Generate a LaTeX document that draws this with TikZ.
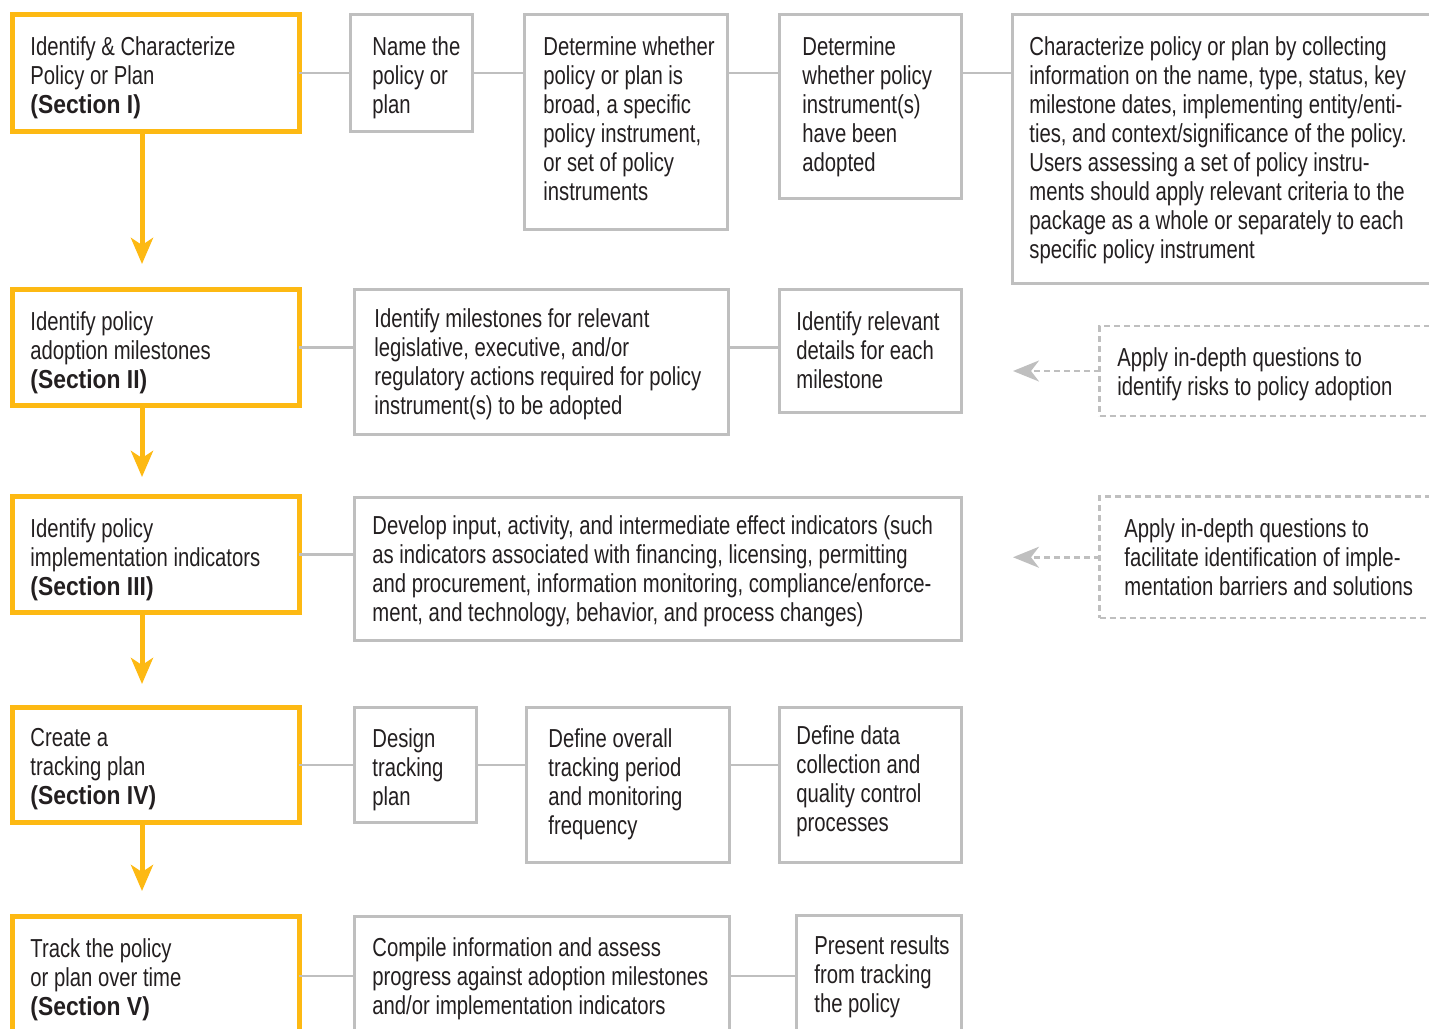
\documentclass[tikz,border=0pt]{standalone}
\usepackage{fontspec}
\setmainfont{Liberation Sans}[FakeStretch=0.78, BoldFeatures={FakeStretch=0.88}]
\usetikzlibrary{arrows.meta}
\definecolor{sectyellow}{HTML}{FDB913}
\definecolor{boxgray}{HTML}{BFBFBF}
\definecolor{inkblack}{HTML}{231F20}

\begin{document}
\begin{tikzpicture}[x=1pt, y=-1pt,
	sect/.style = {draw=sectyellow,
		line width=2.5pt,
		outer sep=0pt, inner sep=0pt,
		anchor=north west,
		minimum width=143.5pt},
	task/.style = {draw=boxgray,
		line width=1.5pt,
		outer sep=0pt, inner sep=0pt,
		anchor=north west},
	hint/.style = {draw=boxgray,
		line width=1.3pt,
		dash pattern=on 3pt off 2pt,
		outer sep=0pt, inner sep=0pt,
		anchor=north west},
	txt/.style = {anchor=north west,
		inner sep=0pt,
		align=left,
		text=inkblack,
		font=\fontsize{13}{14.5}\selectfont},
	flow/.style = {draw=sectyellow, line width=2.5pt,
		-{Stealth[length=13pt, width=11pt, inset=3.5pt]}},
	link/.style = {draw=boxgray, line width=1.25pt},
	back/.style = {draw=boxgray, line width=1.3pt,
		dash pattern=on 3pt off 2pt,
		-{Stealth[length=13pt, width=10.5pt, inset=4pt]}}]

	\useasboundingbox (0,0) rectangle (714.5,514);
	\clip (0,0) rectangle (714.5,514);

	% section boxes
	\node[sect, minimum height=58.5pt] (sec1) at (6,7.25) {};
	\node[sect, minimum height=58pt] (sec2) at (6,144.75) {};
	\node[sect, minimum height=58pt] (sec3) at (6,248.25) {};
	\node[sect, minimum height=57.5pt] (sec4) at (6,353.75) {};
	\node[sect, minimum height=59.75pt] (sec5) at (6,458) {};

	\node[txt] (sec1-t) at ([shift={(9,10.75)}]sec1.north west) {Identify \& Characterize\\Policy or Plan\\\textbf{(Section I)}};
	\node[txt] (sec2-t) at ([shift={(9,10.75)}]sec2.north west) {Identify policy\\adoption milestones\\\textbf{(Section II)}};
	\node[txt] (sec3-t) at ([shift={(9,10.75)}]sec3.north west) {Identify policy\\implementation indicators\\\textbf{(Section III)}};
	\node[txt] (sec4-t) at ([shift={(9,10.25)}]sec4.north west) {Create a\\tracking plan\\\textbf{(Section IV)}};
	\node[txt] (sec5-t) at ([shift={(9,11)}]sec5.north west) {Track the policy\\or plan over time\\\textbf{(Section V)}};

	% row 1
	\node[task, minimum width=61pt, minimum height=58.25pt] (name) at (175.25,7.25) {};
	\node[task, minimum width=101.5pt, minimum height=107.25pt] (broad) at (262.25,7.25) {};
	\node[task, minimum width=90.75pt, minimum height=91.75pt] (adopted) at (389.75,7.25) {};
	\node[task, minimum width=250pt, minimum height=134.25pt] (charact) at (506.25,7.25) {};

	\node[txt] (name-t) at ([shift={(10.75,11)}]name.north west) {Name the\\policy or\\plan};
	\node[txt] (broad-t) at ([shift={(9.25,11)}]broad.north west) {Determine whether\\policy or plan is\\broad, a specific\\policy instrument,\\or set of policy\\instruments};
	\node[txt] (adopted-t) at ([shift={(11.25,11)}]adopted.north west) {Determine\\whether policy\\instrument(s)\\have been\\adopted};
	\node[txt] (charact-t) at ([shift={(8.25,11)}]charact.north west) {Characterize policy or plan by collecting\\information on the name, type, status, key\\milestone dates, implementing entity/enti-\\ties, and context/significance of the policy.\\Users assessing a set of policy instru-\\ments should apply relevant criteria to the\\package as a whole or separately to each\\specific policy instrument};

	% row 2
	\node[task, minimum width=186.75pt, minimum height=72.5pt] (miles) at (177.25,144.75) {};
	\node[task, minimum width=91pt, minimum height=61.5pt] (details) at (389.75,144.75) {};
	\node[hint, minimum width=200pt, minimum height=45pt] (risks) at (549.75,163) {};

	\node[txt] (miles-t) at ([shift={(9.75,9.25)}]miles.north west) {Identify milestones for relevant\\legislative, executive, and/or\\regulatory actions required for policy\\instrument(s) to be adopted};
	\node[txt] (details-t) at ([shift={(8.25,10.75)}]details.north west) {Identify relevant\\details for each\\milestone};
	\node[txt] (risks-t) at ([shift={(8.75,10.5)}]risks.north west) {Apply in-depth questions to\\identify risks to policy adoption};

	% row 3
	\node[task, minimum width=303.25pt, minimum height=71.5pt] (devel) at (177.25,248.75) {};
	\node[hint, minimum width=200pt, minimum height=60.75pt] (barriers) at (549.75,248.25) {};

	\node[txt] (devel-t) at ([shift={(8.75,8.75)}]devel.north west) {Develop input, activity, and intermediate effect indicators (such\\as indicators associated with financing, licensing, permitting\\and procurement, information monitoring, compliance/enforce-\\ment, and technology, behavior, and process changes)};
	\node[txt] (barriers-t) at ([shift={(12.25,10.75)}]barriers.north west) {Apply in-depth questions to\\facilitate identification of imple-\\mentation barriers and solutions};

	% row 4
	\node[task, minimum width=61pt, minimum height=57.5pt] (design) at (177.25,353.75) {};
	\node[task, minimum width=101.5pt, minimum height=77.5pt] (overall) at (263.25,353.75) {};
	\node[task, minimum width=90.75pt, minimum height=77.5pt] (datacoll) at (389.75,353.75) {};

	\node[txt] (design-t) at ([shift={(8.75,10.25)}]design.north west) {Design\\tracking\\plan};
	\node[txt] (overall-t) at ([shift={(10.75,10.25)}]overall.north west) {Define overall\\tracking period\\and monitoring\\frequency};
	\node[txt] (datacoll-t) at ([shift={(8.25,8.75)}]datacoll.north west) {Define data\\collection and\\quality control\\processes};

	% row 5
	\node[task, minimum width=187.5pt, minimum height=65pt] (compile) at (177.25,458.25) {};
	\node[task, minimum width=82.75pt, minimum height=65pt] (present) at (398,457.75) {};

	\node[txt] (compile-t) at ([shift={(8.75,10.25)}]compile.north west) {Compile information and assess\\progress against adoption milestones\\and/or implementation indicators};
	\node[txt] (present-t) at ([shift={(9,9.75)}]present.north west) {Present results\\from tracking\\the policy};

	% connectors
	\draw[link] (sec1.east) -- (sec1.east -| name.west)
		(sec1.east -| name.east) -- (sec1.east -| broad.west)
		(sec1.east -| broad.east) -- (sec1.east -| adopted.west)
		(sec1.east -| adopted.east) -- (sec1.east -| charact.west);
	\draw[link] (sec2.east) -- (sec2.east -| miles.west)
		(sec2.east -| miles.east) -- (sec2.east -| details.west);
	\draw[link] (sec3.east) -- (sec3.east -| devel.west);
	\draw[link] (sec4.east) -- (sec4.east -| design.west)
		(sec4.east -| design.east) -- (sec4.east -| overall.west)
		(sec4.east -| overall.east) -- (sec4.east -| datacoll.west);
	\draw[link] (sec5.east) -- (sec5.east -| compile.west)
		(sec5.east -| compile.east) -- (sec5.east -| present.west);

	% flow down the sections
	\coordinate (tip1) at (71,132);
	\coordinate (tip2) at (71,238.5);
	\coordinate (tip3) at (71,342);
	\coordinate (tip4) at (71,445.5);
	\draw[flow] (sec1.south -| tip1) -- (tip1);
	\draw[flow] (sec2.south -| tip2) -- (tip2);
	\draw[flow] (sec3.south -| tip3) -- (tip3);
	\draw[flow] (sec4.south -| tip4) -- (tip4);

	% in-depth questions
	\coordinate (hintend) at (506.5,0);
	\draw[back] (risks.west) -- (risks.west -| hintend);
	\draw[back] (barriers.west) -- (barriers.west -| hintend);

\end{tikzpicture}
\end{document}
